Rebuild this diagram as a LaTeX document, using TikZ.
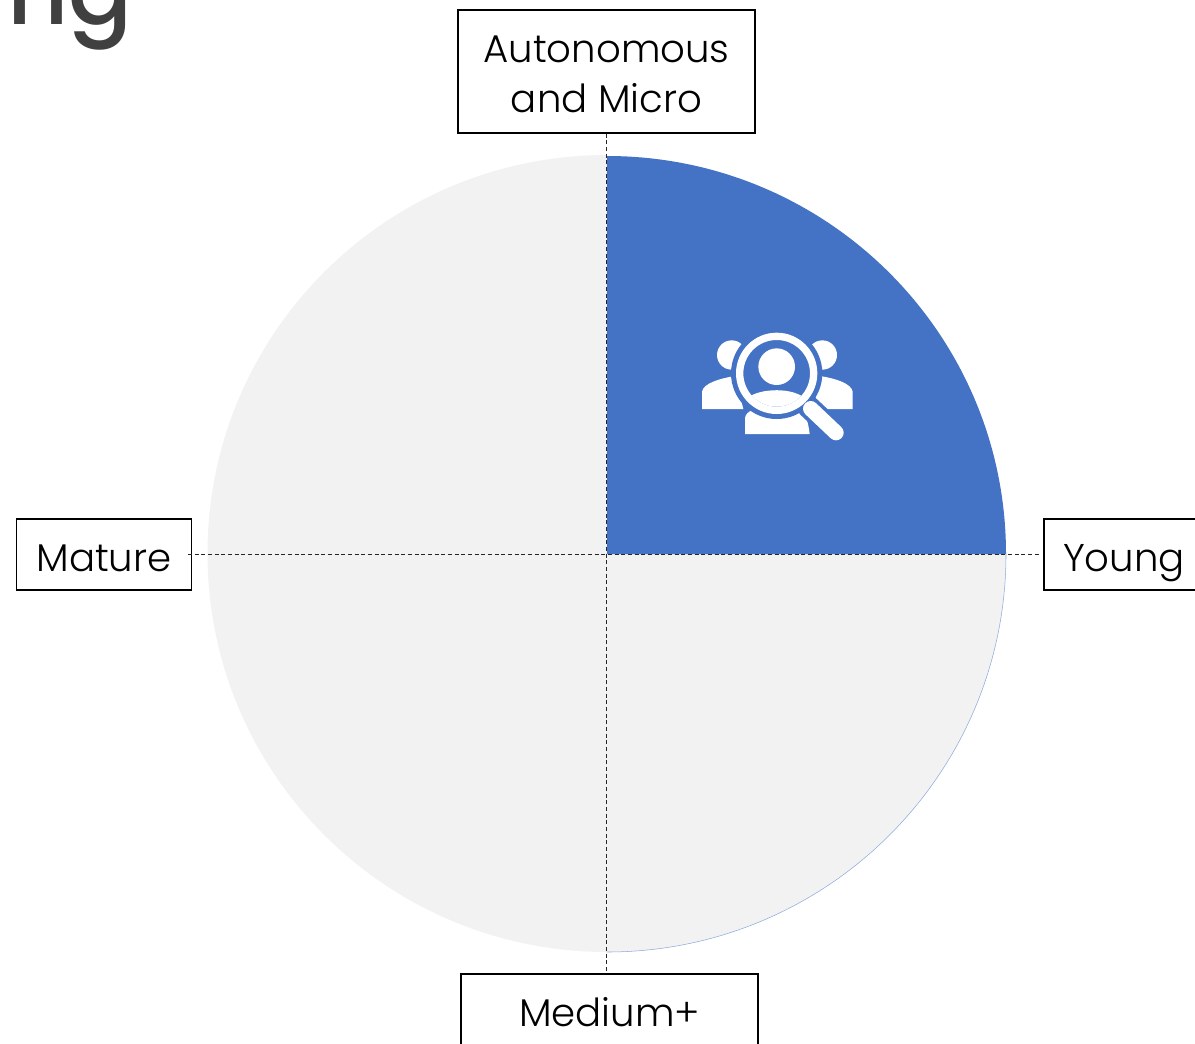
\documentclass[tikz,border=0pt]{standalone}
\usepackage{fontspec}
\setmainfont[UprightFont=* Light]{Poppins}
\newfontfamily\titlefont[UprightFont=* Medium]{Poppins}
\definecolor{qblue}{HTML}{4472C4}
\definecolor{qgrey}{HTML}{F2F2F2}
\definecolor{titlegrey}{HTML}{404040}
\tikzset{
  px/.style={x=0.75pt,y=-0.75pt},
  labelbox/.style={draw=black,line width=1.1pt,fill=white,inner sep=0pt,align=center,text=black,
    font=\fontsize{29pt}{37.5pt}\selectfont},
  oneline/.style={text height=24.8pt,text depth=0pt},
  axis/.style={draw=black!85,line width=0.9pt,dash pattern=on 3pt off 2pt},
  iconwhite/.style={fill=white,draw=none},
  iconblue/.style={fill=qblue,draw=none}
}
\begin{document}
\begin{tikzpicture}[px]
\useasboundingbox (0,0) rectangle (1195,1043);
\clip (0,0) rectangle (1195,1043);
% disc
\fill[qgrey] (607,155) arc[start angle=-90,end angle=-270,x radius=399.5,y radius=398.5] -- cycle;
\fill[qgrey] (607,554) -- (1006,554) arc[start angle=0,end angle=90,x radius=399,y radius=398] -- cycle;
\draw[qblue!60,line width=0.4pt] (1006,554) arc[start angle=0,end angle=90,x radius=399,y radius=398];
\fill[qblue] (607,554) -- (1006,554) arc[start angle=0,end angle=-90,x radius=399,y radius=398] -- cycle;
% title fragment
\node[anchor=base west,inner sep=0pt,text=titlegrey,font=\titlefont\fontsize{71pt}{71pt}\selectfont] (title) at (7,24) {ng};
% boxes
\node[labelbox,minimum width=223pt,minimum height=92pt] (auto) at (606.5,71.5) {\rule{0pt}{24.5pt}Autonomous\\and Micro};
\node[labelbox,oneline,minimum width=131pt,minimum height=53.5pt] (mature) at (104,554.5) {Mature};
\node[labelbox,oneline,minimum width=120pt,minimum height=53.5pt] (young) at (1124,554.5) {Young};
\node[labelbox,oneline,minimum width=223pt,minimum height=53.5pt] (medium) at (609.5,1009.5) {Medium+};
% axes
\coordinate (vend) at (auto.south |- medium.north);
\draw[axis,shorten >=1.5pt] (auto.south) -- (vend);
\draw[axis,shorten >=3pt,shorten <=-3pt] (mature.east) -- (young.west);
% icon, in units of the zoomed crop
\begin{scope}[shift={(680,310)},x=0.25pt,y=-0.25pt]
  \path[iconwhite] (155,135) circle[radius=44];
  \path[iconwhite] (427,135) circle[radius=44];
  \path[iconwhite] (66,297) -- (66,245) .. controls (70,220) and (120,205) .. (165,198) -- (190,297) -- cycle;
  \path[iconwhite] (518,297) -- (518,245) .. controls (514,220) and (465,205) .. (420,198) -- (400,297) -- cycle;
  \path[iconwhite] (195,372) -- (195,325) .. controls (196,312) and (205,305) .. (225,295) -- (360,295) .. controls (378,310) and (385,340) .. (389,372) -- cycle;
  \path[iconblue] (290,190) circle[radius=137];
  \draw[qblue,line width=17pt,line cap=round] (385,290) -- (465,365);
  \path[iconwhite,even odd rule] (290,190) circle[radius=122] (290,190) circle[radius=100];
  \path[iconwhite] (290,170) circle[radius=55];
  \begin{scope}
    \clip (290,190) circle[radius=100];
    \path[iconwhite] (205,262) .. controls (240,235) and (340,230) .. (378,268) -- (378,340) -- (205,340) -- cycle;
  \end{scope}
  \draw[white,line width=11.5pt,line cap=round] (392,296) -- (468,368);
\end{scope}
\end{tikzpicture}
\end{document}
